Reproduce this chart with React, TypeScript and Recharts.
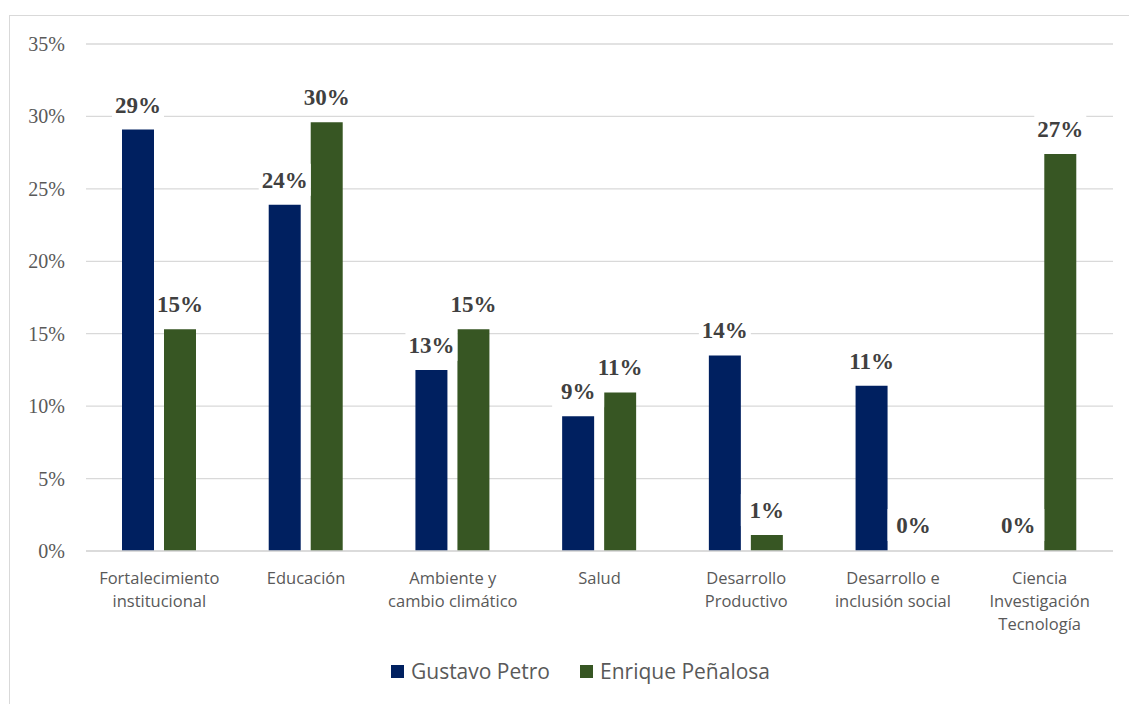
import { Bar, BarChart, CartesianGrid, Cell, LabelList, Legend, XAxis, YAxis } from 'recharts';

const CATEGORIES = [
  'Fortalecimiento\ninstitucional',
  'Educación',
  'Ambiente y\ncambio climático',
  'Salud',
  'Desarrollo\nProductivo',
  'Desarrollo e\ninclusión social',
  'Ciencia\nInvestigación\nTecnología',
];
const PETRO = [29.1, 23.9, 12.5, 9.3, 13.5, 11.4, 0];
const PENALOSA = [15.3, 29.6, 15.3, 10.95, 1.1, 0, 27.4];
const Y_TICKS = [0, 5, 10, 15, 20, 25, 30, 35];

const SERIES = [
  { key: 'petro', name: 'Gustavo Petro', color: '#002060', values: PETRO },
  { key: 'penalosa', name: 'Enrique Peñalosa', color: '#375623', values: PENALOSA },
];

const data = CATEGORIES.map((name, i) => ({
  name,
  petro: PETRO[i],
  penalosa: PENALOSA[i],
}));

const SANS = "'Open Sans', 'Noto Sans', sans-serif";
const SERIF = "'Liberation Serif', 'Times New Roman', serif";

function CategoryTick({ x, y, payload }: any) {
  const lines = String(payload.value).split('\n');
  return (
    <text x={x} y={y} textAnchor="middle" fill="#595959" fontFamily={SANS} fontSize={16.5}>
      {lines.map((line, i) => (
        <tspan key={i} x={x} dy={i === 0 ? 31 : 23}>
          {line}
        </tspan>
      ))}
    </text>
  );
}

function PercentTick({ x, y, payload }: any) {
  return (
    <g>
      <text
        x={x}
        y={y}
        dy="0.35em"
        textAnchor="end"
        fill="#595959"
        fontFamily={SERIF}
        fontSize={20}
      >
        {`${payload.value}%`}
      </text>
    </g>
  );
}

function ValueLabel(props: any) {
  const vb = props.viewBox ?? props;
  const { x, y, width } = vb;
  if (x == null || y == null) return null;
  const cx = x + width / 2;
  const cy = y - 25;
  return (
    <g>
      <rect x={cx - 26} y={cy - 16} width={52} height={32} fill="#ffffff" />
      <text
        x={cx}
        y={cy}
        dy="0.35em"
        textAnchor="middle"
        fill="#404040"
        fontFamily={SERIF}
        fontSize={23}
        fontWeight="bold"
      >
        {`${Math.round(Number(props.value))}%`}
      </text>
    </g>
  );
}

function LegendContent() {
  return (
    <div
      style={{
        display: 'flex',
        justifyContent: 'center',
        alignItems: 'center',
        gap: 30,
        marginLeft: 48,
        height: 26,
        fontFamily: SANS,
        fontSize: 21,
        color: '#595959',
      }}
    >
      {SERIES.map((s) => (
        <span key={s.key} style={{ display: 'flex', alignItems: 'center' }}>
          <span
            style={{
              display: 'inline-block',
              width: 13,
              height: 13,
              background: s.color,
              marginRight: 7,
            }}
          />
          {s.name}
        </span>
      ))}
    </div>
  );
}

export default function App() {
  return (
    <div style={{ position: 'absolute', left: 0, top: 0, width: 1129, height: 704, background: '#fff' }}>
      <div
        style={{
          position: 'absolute',
          left: 9,
          top: 15,
          width: 1125,
          height: 700,
          border: '1px solid #d9d9d9',
          boxSizing: 'border-box',
        }}
      />
      <div style={{ position: 'absolute', left: 0, top: 0 }}>
        <BarChart
          width={1129}
          height={704}
          data={data}
          margin={{ top: 44, right: 16, bottom: 20, left: 0 }}
          barSize={32}
          barGap={10}
        >
          <CartesianGrid vertical={false} stroke="#d9d9d9" strokeWidth={1.3} />
          <XAxis
            dataKey="name"
            interval={0}
            height={107}
            tickLine={false}
            tickSize={0}
            axisLine={{ stroke: '#d9d9d9', strokeWidth: 1.3 }}
            tick={(p: any) => <CategoryTick {...p} />}
          />
          <YAxis
            width={86}
            domain={[0, 35]}
            ticks={Y_TICKS}
            axisLine={false}
            tickLine={false}
            tickSize={0}
            tickMargin={21}
            tick={(p: any) => <PercentTick {...p} />}
          />
          <Legend verticalAlign="bottom" height={26} content={<LegendContent />} />
          {SERIES.map((s) => (
            <Bar
              key={s.key}
              dataKey={s.key}
              name={s.name}
              fill={s.color}
              minPointSize={(v: number) => (v === 0 ? 1 : 0)}
              isAnimationActive={false}
            >
              {s.values.map((v, i) => (
                <Cell key={i} fill={v === 0 ? 'transparent' : s.color} />
              ))}
              <LabelList dataKey={s.key} content={<ValueLabel />} />
            </Bar>
          ))}
        </BarChart>
      </div>
    </div>
  );
}
